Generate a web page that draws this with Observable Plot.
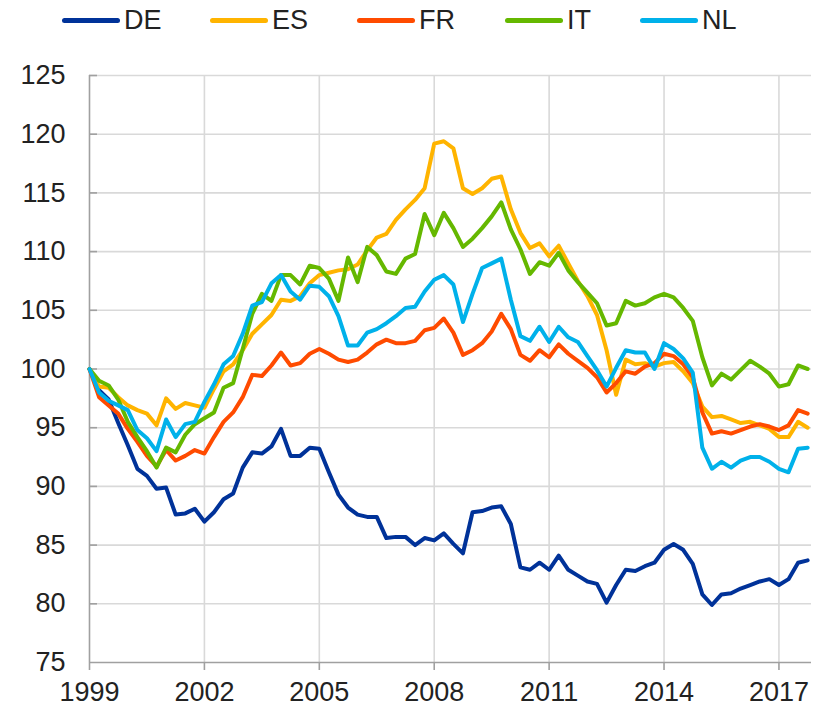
<!DOCTYPE html>
<html>
<head>
<meta charset="utf-8">
<script src="https://cdn.jsdelivr.net/npm/d3@7"></script>
<script src="https://cdn.jsdelivr.net/npm/@observablehq/plot@0.6"></script>
<style>
  html, body { margin: 0; padding: 0; background: #fff; }
  body { width: 814px; height: 708px; overflow: hidden; font-family: "Liberation Sans", Arial, sans-serif; }
  #legend { position: relative; height: 40px; }
  .item { position: absolute; top: 0; height: 40px; display: flex; align-items: center; font-size: 27px; color: #222; }
  .sw { width: 58px; height: 5px; border-radius: 3px; margin-right: 4px; }
  #chart svg { display: block; }
</style>
</head>
<body>
<div id="legend"></div>
<div id="chart"></div>
<script>
// Series names and colours
const countries = ["DE", "ES", "FR", "IT", "NL"];
const colors = ["#003299", "#FFB400", "#FF4B00", "#65B800", "#00B1EA"];
const legendX = [62, 210, 357, 505, 640];

// Quarterly periods 1999Q1 .. 2017Q4
const startYear = 1999;
const nQuarters = 76;

// Index values (1999Q1 = 100)
const DE = [100, 98.2, 97.4, 95.4, 93.5, 91.5, 90.9, 89.8, 89.9, 87.6, 87.7, 88.1, 87.0, 87.8, 88.9, 89.4,
  91.6, 92.9, 92.8, 93.4, 94.9, 92.6, 92.6, 93.3, 93.2, 91.2, 89.3, 88.2, 87.6, 87.4, 87.4, 85.6,
  85.7, 85.7, 85.0, 85.6, 85.4, 86.0, 85.1, 84.3, 87.8, 87.9, 88.2, 88.3, 86.8, 83.1, 82.9, 83.5,
  82.9, 84.1, 82.9, 82.4, 81.9, 81.7, 80.1, 81.6, 82.9, 82.8, 83.2, 83.5, 84.6, 85.1, 84.6, 83.4,
  80.8, 79.9, 80.8, 80.9, 81.3, 81.6, 81.9, 82.1, 81.6, 82.1, 83.5, 83.7];
const ES = [100, 98.5, 98.4, 97.6, 96.9, 96.5, 96.2, 95.2, 97.5, 96.6, 97.1, 96.9, 96.7, 98.3, 99.8, 100.4,
  101.6, 103.0, 103.8, 104.6, 105.9, 105.8, 106.2, 107.3, 108.0, 108.2, 108.4, 108.5, 108.9, 110.1,
  111.2, 111.5, 112.7, 113.6, 114.4, 115.4, 119.2, 119.4, 118.8, 115.4, 114.9, 115.4, 116.2, 116.4, 113.6, 111.6, 110.3, 110.7, 109.6, 110.5, 109.0,
  107.5, 106.2, 104.6, 101.6, 97.8, 100.8, 100.4, 100.5, 100.2, 100.5, 100.6, 99.8, 98.8, 96.8, 95.9, 96.0, 95.7, 95.4, 95.5, 95.2, 94.9, 94.2, 94.2, 95.5, 95.0];
const FR = [100, 97.6, 96.9, 96.2, 94.9, 93.8, 92.6, 91.7, 93.1, 92.2, 92.6, 93.1, 92.8, 94.2, 95.5, 96.3,
  97.6, 99.5, 99.4, 100.3, 101.4, 100.3, 100.5, 101.3, 101.7, 101.3, 100.8, 100.6, 100.8, 101.4,
  102.1, 102.5, 102.2, 102.2, 102.4, 103.3, 103.5, 104.3, 103.1, 101.2, 101.6, 102.2, 103.2, 104.7, 103.4, 101.2,
  100.7, 101.6, 101.0, 102.1, 101.3, 100.7, 100.1, 99.3, 98.0, 98.8, 99.8, 99.6, 100.2, 100.5, 101.3,
  101.1, 100.4, 99.3, 96.3, 94.5, 94.7, 94.5, 94.8, 95.1, 95.3, 95.1, 94.8, 95.2, 96.5, 96.2];
const IT = [100, 99.0, 98.6, 97.4, 95.5, 94.2, 93.0, 91.6, 93.3, 92.9, 94.4, 95.3, 95.8, 96.3, 98.4, 98.8,
  101.7, 104.7, 106.4, 105.8, 108.0, 108.0, 107.2, 108.8, 108.6, 107.7, 105.8, 109.5, 107.4, 110.4, 109.7,
  108.3, 108.1, 109.4, 109.8, 113.2, 111.4, 113.3, 112.0, 110.4, 111.1, 112.0, 113.0, 114.2, 111.9, 110.2,
  108.1, 109.1, 108.8, 109.9, 108.4, 107.4, 106.5, 105.6, 103.7, 103.9, 105.8, 105.4, 105.6, 106.1, 106.4,
  106.1, 105.2, 104.1, 101.0, 98.6, 99.6, 99.1, 99.9, 100.7, 100.2, 99.6, 98.5, 98.7, 100.3, 100.0];
const NL = [100, 98.0, 97.3, 96.9, 96.5, 94.8, 94.1, 93.0, 95.7, 94.2, 95.3, 95.5, 97.2, 98.7, 100.4, 101.1,
  103.0, 105.4, 105.7, 107.3, 108.0, 106.6, 105.9, 107.1, 107.0, 106.2, 104.5, 102.0, 102.0, 103.1, 103.4,
  103.9, 104.5, 105.2, 105.3, 106.6, 107.6, 108.0, 107.2, 104.0, 106.4, 108.6, 109.0, 109.4, 105.9, 102.8,
  102.4, 103.6, 102.3, 103.6, 102.7, 102.3, 101.1, 99.9, 98.5, 100.1, 101.6, 101.4, 101.4, 100.0, 102.2,
  101.7, 100.9, 99.7, 93.3, 91.5, 92.1, 91.6, 92.2, 92.5, 92.5, 92.1, 91.5, 91.2, 93.2, 93.3];

// Axis ticks
const yTicks = [75, 80, 85, 90, 95, 100, 105, 110, 115, 120, 125];
const xTicks = [1999, 2002, 2005, 2008, 2011, 2014, 2017];

const seriesValues = [DE, ES, FR, IT, NL];
const quarterTime = d3.range(nQuarters).map(i => startYear + i / 4);

const data = [];
countries.forEach((c, k) => {
  seriesValues[k].forEach((v, i) => data.push({country: c, t: quarterTime[i], value: v}));
});

// Legend
const legend = document.getElementById("legend");
countries.forEach((c, k) => {
  const it = document.createElement("div");
  it.className = "item";
  it.style.left = legendX[k] + "px";
  it.innerHTML = `<div class="sw" style="background:${colors[k]}"></div><span>${c}</span>`;
  legend.appendChild(it);
});

const W = 814, H = 668;
const mL = 89, mR = 3;
const plotW = W - mL - mR;

const chart = Plot.plot({
  width: W,
  height: H,
  marginTop: 35,
  marginBottom: 46,
  marginLeft: mL,
  marginRight: mR,
  style: {fontFamily: "'Liberation Sans', Arial, sans-serif", fontSize: "27px", color: "#222", background: "#fff"},
  x: {domain: [1999, 2017.85]},
  y: {domain: [75, 125]},
  color: {domain: countries, range: colors},
  marks: [
    Plot.ruleY(yTicks.filter(d => d > 75), {stroke: "#d9d9d9", strokeWidth: 1.6}),
    Plot.ruleX(xTicks.filter(d => d > 1999), {stroke: "#d9d9d9", strokeWidth: 1.6}),
    Plot.ruleY(yTicks.filter(d => d > 75), {stroke: "#a0a0a0", strokeWidth: 1.6, insetRight: plotW - 8}),
    Plot.ruleX([1999], {stroke: "#a0a0a0", strokeWidth: 1.6}),
    Plot.ruleY([75], {stroke: "#a0a0a0", strokeWidth: 1.6}),
    Plot.axisY({ticks: yTicks, tickSize: 0, tickPadding: 24, fontSize: 27, fill: "#222", label: null}),
    Plot.axisX({ticks: xTicks, tickSize: 8, tickPadding: 11, tickFormat: d => String(d), fontSize: 27, fill: "#222", stroke: "#a0a0a0", strokeWidth: 1.6, label: null}),
    ...countries.map((c, k) => Plot.line(data.filter(d => d.country === c), {
      x: "t", y: "value", stroke: colors[k], strokeWidth: 4, strokeLinejoin: "round", strokeLinecap: "round"
    }))
  ]
});
document.getElementById("chart").appendChild(chart);
</script>
</body>
</html>
